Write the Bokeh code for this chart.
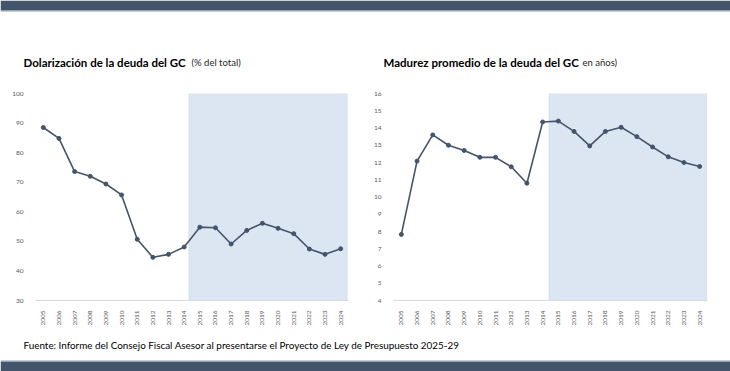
import math
from bokeh.plotting import figure
from bokeh.models import Range1d, FixedTicker, BoxAnnotation, Label
from bokeh.layouts import column, row
from bokeh.embed import file_html
from bokeh.resources import INLINE

# ---- data ----
years = list(range(2005, 2025))
dollarization = [88.5, 84.8, 73.6, 72.0, 69.4, 65.7, 50.7, 44.6, 45.6, 48.1,
                 54.8, 54.6, 49.1, 53.7, 56.1, 54.4, 52.6, 47.4, 45.6, 47.5]
maturity = [7.83, 12.08, 13.6, 13.0, 12.7, 12.3, 12.3, 11.75, 10.8, 14.35,
            14.4, 13.8, 12.96, 13.8, 14.04, 13.5, 12.9, 12.33, 12.0, 11.77]
left_ticks = [30, 40, 50, 60, 70, 80, 90, 100]
right_ticks = list(range(4, 17))
left_title = "Dolarización de la deuda del GC"
left_sub = "(% del total)"
right_title = "Madurez promedio de la deuda del GC"
right_sub = "en años)"
source_text = "Fuente: Informe del Consejo Fiscal Asesor al presentarse el Proyecto de Ley de Presupuesto 2025-29"

FONT = "Lato"
DARK = "#44546a"
EDGE = "#8d9bb0"
LABEL = "#595959"
W = 730


def make_chart(values, ylo, yhi, ticks, bl, br, frame_w,
               shade_left, shade_right, shade_top, shade_bottom):
    p = figure(width=bl + frame_w + br, height=250, output_backend="svg",
               toolbar_location=None,
               x_range=Range1d(2004.5, 2024.5), y_range=Range1d(ylo, yhi),
               min_border_left=bl, min_border_right=br, min_border_top=13,
               min_border_bottom=30)
    p.outline_line_color = None
    p.grid.visible = False
    p.background_fill_color = "white"
    p.border_fill_color = "white"

    p.add_layout(BoxAnnotation(left=shade_left, right=shade_right, top=shade_top,
                               bottom=shade_bottom, fill_color="#dce6f2", fill_alpha=1,
                               line_color="#b4c4d8", line_width=1, level="underlay"))

    p.line(years, values, line_color=DARK, line_width=1.6)
    p.scatter(years, values, size=4, color=DARK)

    xa = p.xaxis[0]
    xa.ticker = FixedTicker(ticks=years)
    xa.major_label_orientation = math.pi / 2
    xa.major_tick_line_color = None
    xa.minor_tick_line_color = None
    xa.axis_line_color = "#d9d9d9"
    xa.major_label_text_font = FONT
    xa.major_label_text_font_size = "6.5px"
    xa.major_label_text_color = LABEL
    xa.major_label_standoff = 4

    ya = p.yaxis[0]
    ya.ticker = FixedTicker(ticks=ticks)
    ya.major_tick_line_color = None
    ya.minor_tick_line_color = None
    ya.axis_line_color = None
    ya.major_label_text_font = FONT
    ya.major_label_text_font_size = "6.5px"
    ya.major_label_text_color = LABEL
    ya.major_label_standoff = 6
    return p


def strip(h):
    b = figure(width=W, height=h, output_backend="svg", toolbar_location=None,
               x_range=Range1d(0, W), y_range=Range1d(0, h), min_border=0)
    b.axis.visible = False
    b.grid.visible = False
    b.outline_line_color = None
    b.background_fill_color = "white"
    b.border_fill_color = "white"
    return b


# header: dark band + titles (coordinates in pixels, y measured upward)
header = strip(80)
header.add_layout(BoxAnnotation(bottom=70, top=80, fill_color=DARK, fill_alpha=1,
                                line_color=None))
header.add_layout(BoxAnnotation(bottom=69, top=70, fill_color=EDGE, fill_alpha=1,
                                line_color=None))
for x, txt, size, style in [(23, left_title, "11.5px", "bold"),
                            (191, left_sub, "9.5px", "normal"),
                            (383, right_title, "11.5px", "bold"),
                            (582, right_sub, "9.5px", "normal")]:
    header.add_layout(Label(x=x, y=18.5, text=txt, text_font=FONT, text_font_size=size,
                            text_font_style=style, text_baseline="alphabetic",
                            text_color="black" if style == "bold" else "#262626"))

left = make_chart(dollarization, 30, 100, left_ticks, 35, 17, 313,
                  2014.3, 2024.42, 100.34, 22.2)
right = make_chart(maturity, 4, 16, right_ticks, 28, 23, 314,
                   2014.4, 2024.45, 16.06, 2.67)

footer = strip(41)
footer.add_layout(Label(x=23, y=26.5, text=source_text, text_font=FONT,
                        text_font_size="9.9px", text_baseline="alphabetic",
                        text_color="black"))
footer.add_layout(BoxAnnotation(bottom=0, top=10, fill_color=DARK, fill_alpha=1,
                                line_color=None))
footer.add_layout(BoxAnnotation(bottom=10, top=11, fill_color=EDGE, fill_alpha=1,
                                line_color=None))

layout = column(header, row(left, right), footer)
open("out.html", "w").write(file_html(layout, INLINE))
